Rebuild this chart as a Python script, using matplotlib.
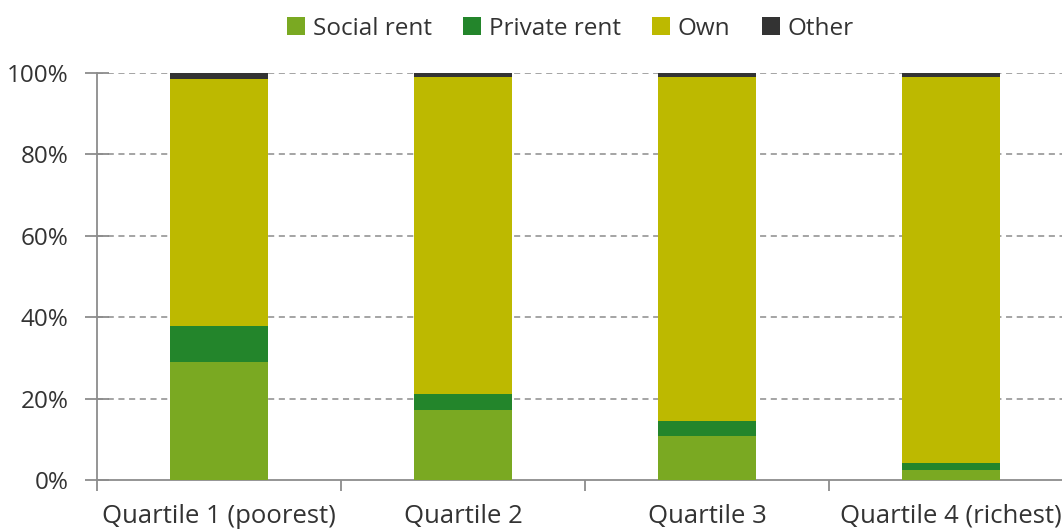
import numpy as np
import matplotlib
matplotlib.use('Agg')
import matplotlib.pyplot as plt

plt.rcParams['font.family'] = ['Open Sans', 'DejaVu Sans']

categories = ["Quartile 1 (poorest)", "Quartile 2", "Quartile 3", "Quartile 4 (richest)"]
social_rent = [29.1, 17.3, 10.8, 2.5]
private_rent = [8.7, 3.8, 3.8, 1.7]
own = [60.7, 77.8, 84.3, 94.9]
other = [1.5, 1.1, 1.1, 0.9]

series = [
    ("Social rent", social_rent, "#7aa922"),
    ("Private rent", private_rent, "#23852b"),
    ("Own", own, "#bdb900"),
    ("Other", other, "#333333"),
]

W, H = 1062, 529
fig = plt.figure(figsize=(W / 100, H / 100), dpi=100)
left, right, top, bottom = 97, 1073, 73, 480
ax = fig.add_axes([left / W, (H - bottom) / H, (right - left) / W, (bottom - top) / H])

x = np.arange(len(categories))
base = np.zeros(len(categories))
for name, vals, col in series:
    ax.bar(x, vals, 0.4, bottom=base, color=col, label=name, zorder=3)
    base += np.array(vals)

ax.set_xlim(-0.5, len(categories) - 0.5)
ax.set_ylim(0, 100)
ax.set_yticks(np.arange(0, 101, 20))
ax.set_yticklabels([f"{v}%" for v in range(0, 101, 20)])
ax.set_xticks(x)
ax.set_xticklabels(categories)
ax.set_xticks(np.arange(-0.5, len(categories), 1), minor=True)

for v in range(20, 101, 20):
    ax.axhline(v, color="#8c8c8c", lw=1.1, ls=(0, (4, 3)), zorder=1)

for s in ["top", "right"]:
    ax.spines[s].set_visible(False)
for s in ["left", "bottom"]:
    ax.spines[s].set_color("#8c8c8c")
    ax.spines[s].set_linewidth(1.3)

fs = 17.5
ax.tick_params(axis="x", which="major", length=0, pad=17, labelsize=18.5, labelcolor="#333333")
ax.tick_params(axis="x", which="minor", length=8, color="#8c8c8c", width=1.3)
ax.tick_params(axis="y", length=17, direction="inout", color="#8c8c8c", width=1.3,
               labelsize=fs, labelcolor="#333333", pad=12)

leg = fig.legend(loc="upper center", bbox_to_anchor=(0.537, 1.01), ncol=4, frameon=False,
                 fontsize=fs, handlelength=0.75, handleheight=0.75, handletextpad=0.3,
                 columnspacing=1.3, labelcolor="#333333")

fig.savefig("out.png", dpi=100)
